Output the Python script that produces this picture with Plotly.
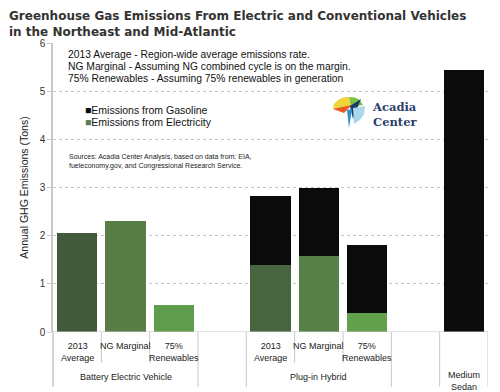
import plotly.graph_objects as go

# ---- data ----
slot_labels = ["2013<br>Average", "NG Marginal", "75%<br>Renewables", "",
               "2013<br>Average", "NG Marginal", "75%<br>Renewables", "", ""]
electricity = [2.05, 2.31, 0.57, None, 1.40, 1.57, 0.39, None, 0]
gasoline = [0, 0, 0, None, 1.42, 1.43, 1.41, None, 5.43]
elec_colors = ["#42593a", "#587d47", "#5f9c4b", "#000000",
               "#476640", "#578048", "#63a04e", "#000000", "#000000"]
group_labels = ["Battery Electric Vehicle", "Plug-in Hybrid", "Medium<br>Sedan"]
group_centers = [1, 5, 8]
y_ticks = [0, 1, 2, 3, 4, 5, 6]
title_lines = ["Greenhouse Gas Emissions From Electric and Conventional Vehicles",
               "in the Northeast and Mid-Atlantic"]

# page body has an 8px margin; lay out in reference pixel coords, shifted by OFF
OFF = 8
W, H = 500 - OFF, 392 - OFF
L, R, T, B = 53 - OFF, 12, 43 - OFF, 60
PW, PH = W - L - R, H - T - B


def px(x):
    return (x - OFF - L) / PW


def py(y):
    return (H - B - (y - OFF)) / PH


x_pos = list(range(len(slot_labels)))

fig = go.Figure()
fig.add_trace(go.Bar(x=x_pos, y=electricity, name="Emissions from Electricity",
                     marker=dict(color=elec_colors, line=dict(width=0)),
                     width=0.83, showlegend=False))
fig.add_trace(go.Bar(x=x_pos, y=gasoline, name="Emissions from Gasoline",
                     marker=dict(color="#0b0b0b", line=dict(width=0)),
                     width=0.83, showlegend=False))

shapes = []
line_col = "#c8c8c8"
shapes.append(dict(type="line", xref="paper", yref="y", x0=0, x1=1, y0=0, y1=0,
                   line=dict(color=line_col, width=1.2), layer="above"))
shapes.append(dict(type="line", xref="paper", yref="paper", x0=0, x1=0,
                   y0=0, y1=py(387), line=dict(color=line_col, width=1.5)))
short_div = [0.5, 1.5, 4.5, 5.5]
long_div = [2.5, 3.5, 6.5, 7.5, 8.5]
for d in short_div:
    shapes.append(dict(type="line", xref="x", yref="paper", x0=d, x1=d,
                       y0=0, y1=py(363), line=dict(color=line_col, width=1)))
for d in long_div:
    shapes.append(dict(type="line", xref="x", yref="paper", x0=d, x1=d,
                       y0=0, y1=py(387), line=dict(color=line_col, width=1)))


def path(pts):
    return "M " + " L ".join(f"{px(a):.4f},{py(b):.4f}" for a, b in pts) + " Z"


logo = [
    ([(333, 109), (334, 104), (338, 100), (343, 97.5), (349, 97), (351, 107)], "#f0d43a"),
    ([(349, 97), (355, 97.5), (360, 100), (363, 105), (351, 107)], "#7dc242"),
    ([(333, 109), (352, 105), (344, 113)], "#e85a24"),
    ([(350, 106), (361, 99), (353, 119)], "#1b3b6f"),
    ([(353, 108), (365, 106), (364, 114), (360, 120), (354, 124)], "#a9d8ec"),
    ([(347, 110), (352, 109), (349, 128)], "#2d8fcb"),
]
for pts, col in logo:
    shapes.append(dict(type="path", xref="paper", yref="paper", path=path(pts),
                       fillcolor=col, line=dict(width=0)))

annotations = []
sans = "Liberation Sans, Arial, sans-serif"
for i, lab in enumerate(slot_labels):
    if lab:
        annotations.append(dict(x=i, y=py(339), xref="x", yref="paper", text=lab,
                                showarrow=False, xanchor="center", yanchor="top",
                                font=dict(family=sans, size=9, color="#222")))
for c, g in zip(group_centers, group_labels):
    yy = 377 if "<br>" not in g else 381
    annotations.append(dict(x=c, y=py(yy), xref="x", yref="paper", text=g,
                            showarrow=False, xanchor="center", yanchor="middle",
                            font=dict(family=sans, size=9, color="#222")))

annotations.append(dict(x=px(8), y=py(8), xref="paper", yref="paper",
                        text="<b>" + "<br>".join(title_lines) + "</b>",
                        showarrow=False, xanchor="left", yanchor="top", align="left",
                        borderpad=0,
                        font=dict(family="DejaVu Sans, sans-serif", size=12, color="#333")))

notes = ["2013 Average - Region-wide average emissions rate.",
         "NG Marginal - Assuming NG combined cycle is on the margin.",
         "75% Renewables - Assuming 75% renewables in generation"]
for k, n in enumerate(notes):
    annotations.append(dict(x=px(66), y=py(54 + 12 * k), xref="paper", yref="paper",
                            text=n, showarrow=False, xanchor="left", yanchor="middle",
                            font=dict(family=sans, size=10.3, color="#111")))
leg = [("Emissions from Gasoline", "#0b0b0b", 110), ("Emissions from Electricity", "#5e7a55", 122)]
for t, col, yy in leg:
    annotations.append(dict(x=px(83), y=py(yy), xref="paper", yref="paper",
                            text=f"<span style='color:{col}'>■</span>{t}",
                            showarrow=False, xanchor="left", yanchor="middle",
                            font=dict(family=sans, size=10.5, color="#111")))
srcs = ["Sources: Acadia Center Analysis, based on data from: EIA,",
        "fueleconomy.gov, and Congressional Research Service."]
for k, s in enumerate(srcs):
    annotations.append(dict(x=px(67), y=py(157 + 9 * k), xref="paper", yref="paper",
                            text=s, showarrow=False, xanchor="left", yanchor="middle",
                            font=dict(family=sans, size=7, color="#222")))
annotations.append(dict(x=px(371), y=py(114), xref="paper", yref="paper",
                        text="<b>Acadia<br>Center</b>", showarrow=False, xanchor="left",
                        yanchor="middle", align="left", borderpad=0,
                        font=dict(family="DejaVu Serif, serif", size=11.5, color="#2b3f6c")))

fig.update_layout(
    width=W, height=H, margin=dict(l=L, r=R, t=T, b=B, autoexpand=False),
    barmode="stack", plot_bgcolor="white", paper_bgcolor="white",
    showlegend=False, shapes=shapes, annotations=annotations,
    xaxis=dict(range=[-0.5, 8.5], showticklabels=False, showgrid=False,
               zeroline=False, showline=False, ticks=""),
    yaxis=dict(range=[0, 6], tickvals=y_ticks, showgrid=True, gridcolor="#c4c4c4",
               griddash="dot", gridwidth=1, zeroline=False, showline=True,
               linecolor=line_col, linewidth=1.5, ticks="outside", ticklen=4,
               tickcolor=line_col, tickfont=dict(family=sans, size=10, color="#333"),
               title=dict(text="Annual GHG Emissions (Tons)", standoff=9,
                          font=dict(family=sans, size=10.5, color="#222"))),
)

fig.write_html("out.html")
